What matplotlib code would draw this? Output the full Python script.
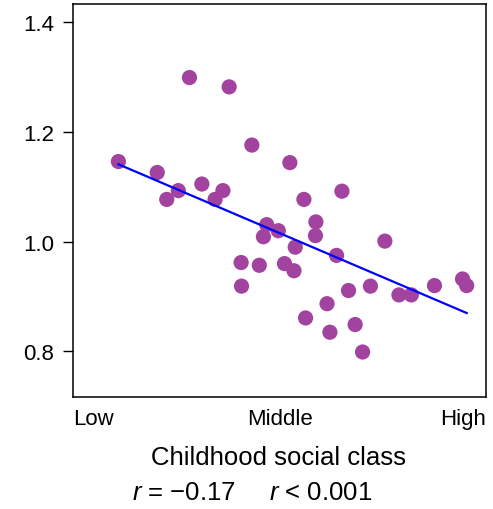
import matplotlib
matplotlib.use("Agg")
import matplotlib.pyplot as plt

# childhood social class (0 = low, 1 = high) vs. outcome
social_class = [0.282, 0.378, 0.433, 0.110, 0.525, 0.204, 0.312, 0.255, 0.363,
                0.651, 0.559, 0.227, 0.344, 0.469, 0.497, 0.461, 0.588, 0.587,
                0.755, 0.538, 0.638, 0.407, 0.451, 0.512, 0.535, 0.408, 0.943,
                0.953, 0.875, 0.720, 0.667, 0.789, 0.819, 0.615, 0.563, 0.683,
                0.622, 0.701]
outcome = [1.299, 1.282, 1.176, 1.146, 1.144, 1.126, 1.105, 1.093, 1.093,
           1.092, 1.077, 1.077, 1.077, 1.031, 1.020, 1.009, 1.036, 1.011,
           1.001, 0.990, 0.975, 0.962, 0.957, 0.960, 0.947, 0.919, 0.932,
           0.920, 0.920, 0.919, 0.911, 0.903, 0.903, 0.887, 0.861, 0.849,
           0.835, 0.799]

# fitted regression line endpoints
fit_x = [0.110, 0.953]
fit_y = [1.141, 0.870]

x_labels = ["Low", "Middle", "High"]
y_ticks = [0.8, 1.0, 1.2, 1.4]

plt.rcParams["font.family"] = ["Liberation Sans", "DejaVu Sans"]
plt.rcParams["mathtext.fontset"] = "custom"
plt.rcParams["mathtext.it"] = "Liberation Sans:italic"
plt.rcParams["mathtext.rm"] = "Liberation Sans"

fig = plt.figure(figsize=(4.93, 5.10), dpi=100)
ax = fig.add_axes([0.148, 0.2196, 0.838, 0.7706])

ax.scatter(social_class, outcome, s=120, color="#a2449f", edgecolors="none", zorder=2)
ax.plot(fit_x, fit_y, color="#0000ff", linewidth=1.6, zorder=3)

ax.set_xlim(0, 1)
ax.set_ylim(0.717, 1.433)
ax.set_yticks(y_ticks)
ax.set_yticklabels([f"{v:.1f}" for v in y_ticks])
ax.tick_params(axis="y", length=7.5, width=1.0, pad=6, labelsize=16)

ax.set_xticks([])
for xpos, lab, ha in zip([0, 0.5, 1], x_labels, ["left", "center", "right"]):
    ax.text(xpos, -0.028, lab, transform=ax.transAxes, ha=ha, va="top", fontsize=16)

for sp in ax.spines.values():
    sp.set_linewidth(1.1)

fig.text(0.565, 0.102, "Childhood social class", ha="center", va="center", fontsize=18.5)
fig.text(0.268, 0.033, "$r$ = \u22120.17", ha="left", va="center", fontsize=18.5)
fig.text(0.546, 0.033, "$r$ < 0.001", ha="left", va="center", fontsize=18.5)

fig.savefig("out.png", dpi=100)
